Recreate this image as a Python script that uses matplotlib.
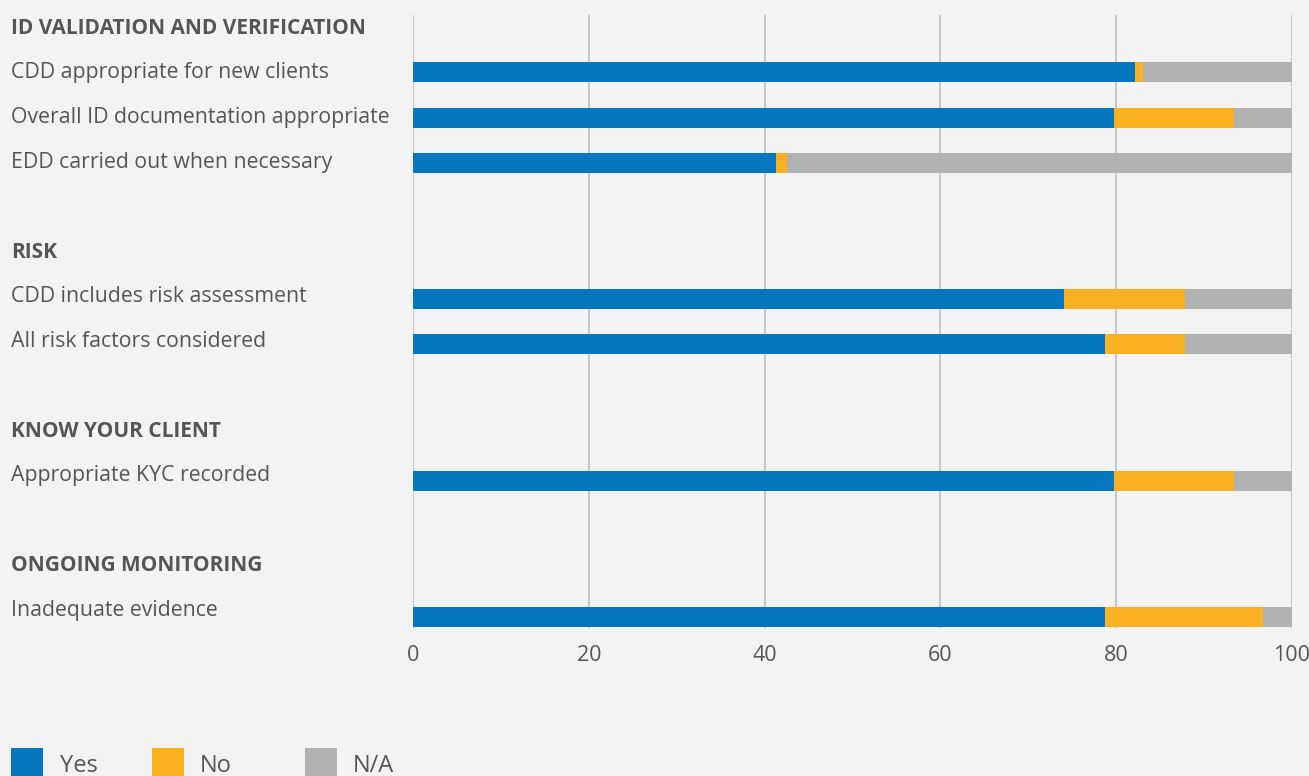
import matplotlib.pyplot as plt
from matplotlib.patches import Rectangle
from matplotlib.transforms import blended_transform_factory
import numpy as np

# Survey results (% of files)
headings = ["ID VALIDATION AND VERIFICATION", "RISK", "KNOW YOUR CLIENT", "ONGOING MONITORING"]
items = [
    "CDD appropriate for new clients",
    "Overall ID documentation appropriate",
    "EDD carried out when necessary",
    "CDD includes risk assessment",
    "All risk factors considered",
    "Appropriate KYC recorded",
    "Inadequate evidence",
]
yes = [82.1, 79.7, 41.3, 74.1, 78.7, 79.8, 78.7]
no = [1.0, 13.7, 1.3, 13.7, 9.1, 13.6, 18.0]
na = [100 - y - n for y, n in zip(yes, no)]

# slot layout: headings and items share one vertical grid, with blank gaps
heading_slots = [0, 5, 9, 12]
item_slots = [1, 2, 3, 6, 7, 10, 13]

c_yes = "#0477bf"
c_no = "#f9b123"
c_na = "#b1b1b1"
bg = "#f3f3f3"
txt = "#555555"

plt.rcParams["font.family"] = ["Open Sans", "DejaVu Sans"]

W, H = 1309, 776
fig = plt.figure(figsize=(W / 100, H / 100), dpi=100, facecolor=bg)
ax = fig.add_axes([413 / W, 1 - 628 / H, (1292 - 413) / W, (628 - 15) / H])
ax.set_facecolor(bg)

pos = np.array(item_slots, dtype=float)
h = 0.44
ax.barh(pos, yes, height=h, color=c_yes, linewidth=0, zorder=3)
ax.barh(pos, no, left=yes, height=h, color=c_no, linewidth=0, zorder=3)
ax.barh(pos, na, left=np.array(yes) + np.array(no), height=h, color=c_na, linewidth=0, zorder=3)

ax.set_xlim(0, 100)
ax.set_ylim(13.25, -0.26)
ax.set_xticks(np.arange(0, 101, 20))
ax.set_yticks([])
ax.grid(axis="x", color="#bdbdbd", linewidth=1.2, zorder=0)
for s in ax.spines.values():
    s.set_visible(False)
ax.tick_params(axis="x", length=0, pad=12, labelsize=15.5, labelcolor=txt)

# row labels on the left, in figure x / data y
tr = blended_transform_factory(fig.transFigure, ax.transData)
lx = 11 / W
for s, t in zip(heading_slots, headings):
    ax.text(lx, s * 0.987 + 0.03, t, transform=tr, ha="left", va="center",
            fontsize=15, fontweight="bold", color=txt, clip_on=False)
for s, t in zip(item_slots, items):
    ax.text(lx, s * 0.987 + 0.03, t, transform=tr, ha="left", va="center",
            fontsize=15.3, color=txt, clip_on=False)

# legend along the bottom edge
legend_items = [("Yes", c_yes, 11, 60), ("No", c_no, 152, 200), ("N/A", c_na, 305, 353)]
for label, col, bx, tx in legend_items:
    fig.patches.append(Rectangle((bx / W, 1 - 780 / H), 32 / W, 32 / H,
                                 transform=fig.transFigure, color=col, linewidth=0))
    fig.text(tx / W, 1 - 772 / H, label, fontsize=17, color=txt, ha="left", va="baseline")

fig.savefig("out.png", dpi=100, facecolor=bg)
